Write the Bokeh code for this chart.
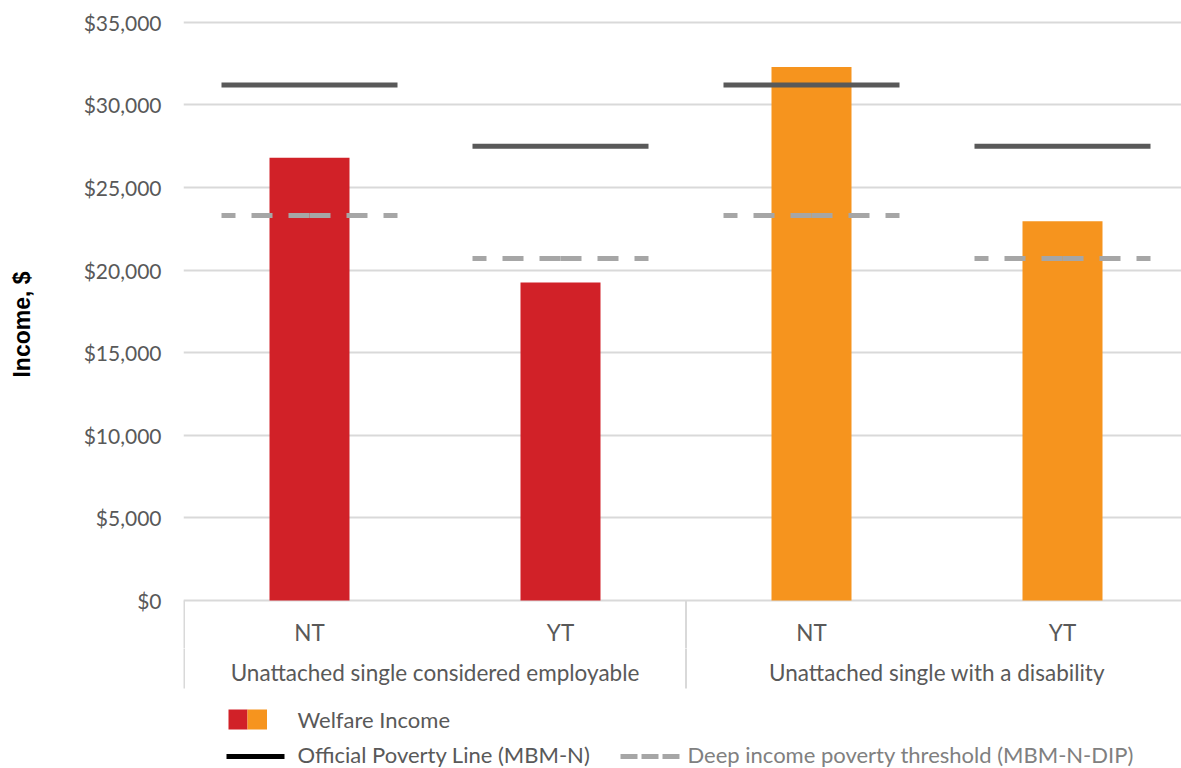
from bokeh.plotting import figure
from bokeh.layouts import column
from bokeh.models import Range1d, FixedTicker, NumeralTickFormatter
from bokeh.core.properties import value
from bokeh.embed import file_html
from bokeh.resources import INLINE

# ---- data ----
groups = ["Unattached single considered employable", "Unattached single with a disability"]
territories = ["NT", "YT", "NT", "YT"]
welfare_income = [26800, 19250, 32300, 22950]
poverty_line = [31200, 27500, 31200, 27500]
deep_poverty = [23300, 20700, 23300, 20700]
group_colors = ["#D12128", "#F6941E"]
y_ticks = [0, 5000, 10000, 15000, 20000, 25000, 30000, 35000]
legend_labels = ["Welfare Income", "Official Poverty Line (MBM-N)",
                 "Deep income poverty threshold (MBM-N-DIP)"]
y_title = "Income, $"

# ---- layout (canvas pixels) ----
W, H = 1181, 768
SPLIT = 648                 # chart panel height; legend panel below it
FRAME_LEFT = 183
ZERO_PX = 600.0             # canvas row of the $0 baseline
PX_PER_DOLLAR = 82.6 / 5000
SLOT0_PX = 183.5            # left edge of the first category slot
SLOT_PX = 251.0             # width of one category slot

def xd(px):
    return (px - SLOT0_PX) / SLOT_PX

def yd(px):
    return (ZERO_PX - px) / PX_PER_DOLLAR

TEXT_COLOR = "#595959"
GRID_COLOR = "#D9D9D9"
FONT = value("Lato")
TEXT_SIZE = value("22.5px")

def make_panel(height, y_top_px, y_bottom_px, with_axis):
    f = figure(width=W, height=height, output_backend="svg", toolbar_location=None,
               x_range=Range1d(xd(FRAME_LEFT), xd(W)),
               y_range=Range1d(yd(y_bottom_px), yd(y_top_px)),
               x_axis_location=None, y_axis_location="left" if with_axis else None,
               min_border_left=FRAME_LEFT, min_border_right=0,
               min_border_top=0, min_border_bottom=0)
    f.outline_line_color = None
    f.background_fill_color = "white"
    f.border_fill_color = "white"
    f.xgrid.visible = False
    if not with_axis:
        f.ygrid.visible = False
    return f

p = make_panel(SPLIT, 0, SPLIT, True)
leg = make_panel(H - SPLIT, SPLIT, H, False)

# y axis + horizontal gridlines
p.yaxis.ticker = FixedTicker(ticks=y_ticks)
p.yaxis.formatter = NumeralTickFormatter(format="$0,0")
p.yaxis.axis_line_color = None
p.yaxis.major_tick_line_color = None
p.yaxis.minor_tick_line_color = None
p.yaxis.major_label_standoff = 16
p.yaxis.major_label_text_font = "Lato"
p.yaxis.major_label_text_font_size = "21px"
p.yaxis.major_label_text_color = TEXT_COLOR
p.yaxis.axis_label = y_title
p.yaxis.axis_label_text_font = "Liberation Sans"
p.yaxis.axis_label_text_font_style = "bold"
p.yaxis.axis_label_text_font_size = "23px"
p.yaxis.axis_label_text_color = "#000000"
p.yaxis.axis_label_standoff = 46
p.ygrid.grid_line_color = GRID_COLOR
p.ygrid.grid_line_width = 2

# ---- bars ----
xs = [i + 0.5 for i in range(len(territories))]
bar_colors = [group_colors[i // 2] for i in range(len(territories))]
p.vbar(x=xs, top=welfare_income, bottom=0, width=80 / SLOT_PX,
       fill_color=bar_colors, line_color=None)

# ---- poverty thresholds ----
half = 88 / SLOT_PX
p.segment(x0=[x - half for x in xs], x1=[x + half for x in xs],
          y0=poverty_line, y1=poverty_line,
          line_color=TEXT_COLOR, line_width=5, line_cap="butt")
# dashed deep-poverty line, dashes start at the bar centre and run outwards
for sign in (-1, 1):
    p.segment(x0=xs, x1=[x + sign * half for x in xs],
              y0=deep_poverty, y1=deep_poverty,
              line_color="#A6A6A6", line_width=5, line_dash="21 16",
              line_cap="butt")

# ---- category axis (separators span both panels) ----
for f in (p, leg):
    f.segment(x0=[0, 2, 4], x1=[0, 2, 4], y0=0, y1=yd(688),
              line_color=GRID_COLOR, line_width=2)
p.text(x=xs, y=yd(632), text=territories, text_font=FONT,
       text_font_size=TEXT_SIZE, text_color=TEXT_COLOR,
       text_align="center", text_baseline="middle")
leg.text(x=[1.0, 3.0], y=yd(672), text=groups, text_font=FONT,
         text_font_size=TEXT_SIZE, text_color=TEXT_COLOR,
         text_align="center", text_baseline="middle")

# ---- legend ----
leg.quad(left=[xd(228), xd(247)], right=[xd(247), xd(266.5)],
         top=yd(709), bottom=yd(729), fill_color=group_colors, line_color=None)
leg.segment(x0=[xd(226)], x1=[xd(284)], y0=yd(756), y1=yd(756),
            line_color="#000000", line_width=5, line_cap="butt")
leg.segment(x0=[xd(620)], x1=[xd(679)], y0=yd(756), y1=yd(756),
            line_color="#A6A6A6", line_width=5, line_dash="17 4", line_cap="butt")
leg.text(x=[xd(297), xd(297)], y=[yd(719), yd(754)], text=legend_labels[:2],
         text_font=FONT, text_font_size=value("22px"), text_color=TEXT_COLOR,
         text_align="left", text_baseline="middle")
leg.text(x=[xd(687)], y=[yd(754)], text=legend_labels[2:],
         text_font=FONT, text_font_size=value("22px"), text_color="#808080",
         text_align="left", text_baseline="middle")

layout = column(p, leg, spacing=0)
open("out.html", "w").write(file_html(layout, INLINE))
